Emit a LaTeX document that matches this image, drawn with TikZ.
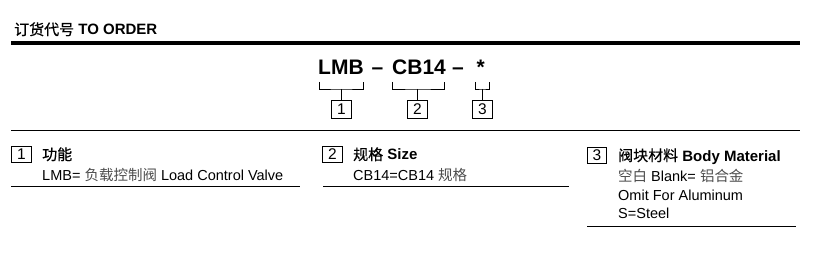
\documentclass[tikz,border=0pt]{standalone}
\usepackage{fontspec}
\setmainfont{Liberation Sans}
\newfontfamily\cjk{Noto Sans CJK SC}
\newfontfamily\cjkhead[FakeBold=0.6]{Noto Sans CJK SC}
\usepackage{tikz}

\tikzset{
  txt/.style={anchor=base west,inner sep=0pt,font=\fontsize{14.5}{16}\selectfont},
  head/.style={anchor=base west,inner sep=0pt,font=\fontsize{15}{17}\selectfont},
  code/.style={anchor=base west,inner sep=0pt,font=\fontsize{21}{24}\selectfont\bfseries},
  numbox/.style={draw,line width=0.8pt,inner sep=0pt,minimum width=19.5pt,font=\fontsize{15.5}{17}\selectfont}
}
\colorlet{cjkgray}{black!70}

\begin{document}
\begin{tikzpicture}[x=1pt,y=-1pt]
\useasboundingbox (0,0) rectangle (823,262);

% heading and rules
\node[head] (title) at (14,35) {{\cjkhead 订货代号} \bfseries TO ORDER};
\draw[line width=4pt] (11,43) -- (800,43);
\draw[line width=1pt] (11,131) -- (800,131);

% order code
\node[code] (lmb) at (318,75) {LMB};
\node[code] (dash1) at (371.5,75) {–};
\node[code] (cb) at (392,75) {CB14};
\node[code] (dash2) at (452,75) {–};
\node[code] (star) at (476.5,75) {*};

\node[numbox,minimum height=18pt] (n1) at (341.5,109) {1};
\node[numbox,minimum height=18pt] (n2) at (417.5,109) {2};
\node[numbox,minimum height=18pt] (n3) at (482.5,109) {3};

\coordinate (k1) at (341.5,89);
\coordinate (k2) at (417.5,89);
\coordinate (k3) at (482.5,89);
\draw (319,82) |- (k1) -| (363,82);
\draw (392,82) |- (k2) -| (444,82);
\draw (475.5,82) |- (k3) -| (489,82);
\draw (k1) -- (n1);
\draw (k2) -- (n2);
\draw (k3) -- (n3);

% 1
\node[numbox,minimum height=16pt] (s1) at (21.5,154) {1};
\node[head] (h1) at (42,160) {\cjkhead 功能};
\node[txt] (t1) at (42,180) {LMB= {\cjk\color{cjkgray}负载控制阀} Load Control Valve};
\draw (11,186) -- (300,186);

% 2
\node[numbox,minimum height=16pt] (s2) at (332.5,154) {2};
\node[head] (h2) at (353,160) {{\cjkhead 规格} \bfseries Size};
\node[txt] (t2) at (353,180) {CB14=CB14 {\cjk\color{cjkgray}规格}};
\draw (323,186) -- (569,186);

% 3
\node[numbox,minimum height=16pt] (s3) at (597,155) {3};
\node[head] (h3) at (618,161) {{\cjkhead 阀块材料} \bfseries Body Material};
\node[txt] (t3a) at (618,181) {{\cjk\color{cjkgray}空白} Blank= {\cjk\color{cjkgray}铝合金}};
\node[txt] (t3b) at (618,200) {Omit For Aluminum};
\node[txt] (t3c) at (618,218) {S=Steel};
\draw (587,226) -- (796,226);
\end{tikzpicture}
\end{document}
